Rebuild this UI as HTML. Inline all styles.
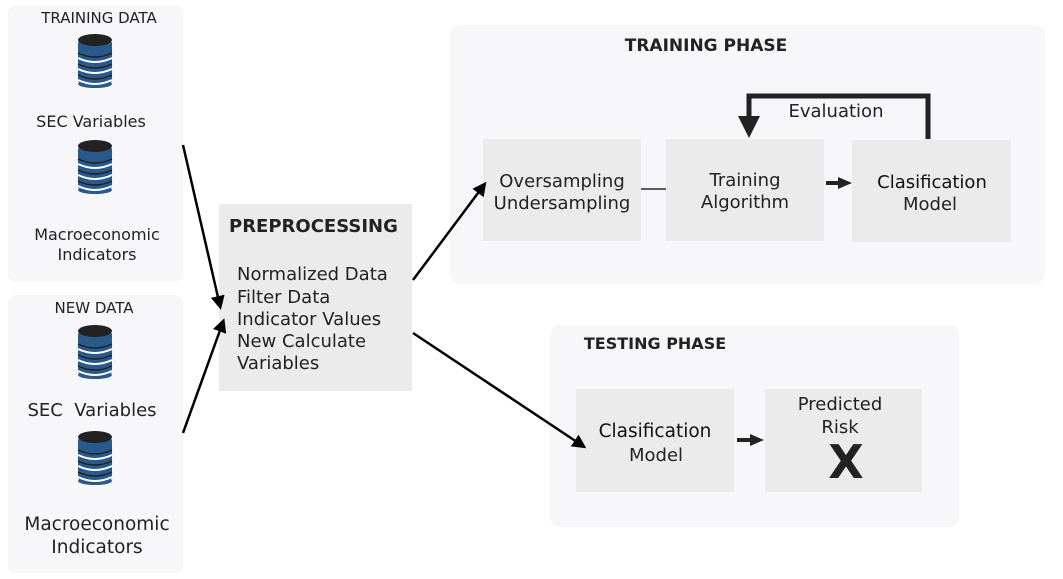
<!DOCTYPE html>
<html><head><style>
body{margin:0;background:#fff;}
svg{display:block;font-family:"DejaVu Sans","Liberation Sans",sans-serif;}
</style></head><body>
<svg width="1063" height="579" viewBox="0 0 1063 579">
<defs>
<marker id="ah2" markerWidth="14" markerHeight="14" refX="10" refY="7" orient="auto" markerUnits="userSpaceOnUse">
<path d="M0,0 L14,7 L0,14 z" fill="#000"/></marker>
<g id="db">
<rect x="-17" y="-20" width="34" height="44" rx="4" fill="#2a5a8c"/>
<ellipse cx="0" cy="24" rx="17" ry="4" fill="#2a5a8c"/>
<path d="M-17,-2 Q0,6 17,-2" stroke="#fff" stroke-width="2" fill="none"/>
<path d="M-17,-7 Q0,1 17,-7" stroke="#222" stroke-width="1.5" fill="none"/>
<path d="M-17,9 Q0,17 17,9" stroke="#fff" stroke-width="2" fill="none"/>
<path d="M-17,4 Q0,12 17,4" stroke="#222" stroke-width="1.5" fill="none"/>
<path d="M-17,20 Q0,28 17,20" stroke="#fff" stroke-width="2" fill="none"/>
<path d="M-17,15 Q0,23 17,15" stroke="#222" stroke-width="1.5" fill="none"/>
<ellipse cx="0" cy="-20" rx="17" ry="6" fill="#222"/>
</g>
</defs>
<rect x="8" y="5" width="175" height="277" rx="8" fill="#f7f7f9"/>
<rect x="8" y="295" width="175" height="278" rx="8" fill="#f7f7f9"/>
<rect x="450" y="25" width="595" height="259" rx="10" fill="#f7f7f9"/>
<rect x="550" y="325" width="409" height="202" rx="10" fill="#f7f7f9"/>
<text x="99" y="23" font-size="15" text-anchor="middle" fill="#222">TRAINING DATA</text>
<use href="#db" x="95" y="60"/>
<text x="91" y="127" font-size="16" text-anchor="middle" fill="#222">SEC Variables</text>
<use href="#db" x="95" y="166"/>
<text x="97" y="240" font-size="16" text-anchor="middle" fill="#222">Macroeconomic</text>
<text x="97" y="260" font-size="16" text-anchor="middle" fill="#222">Indicators</text>
<text x="94" y="313" font-size="15" text-anchor="middle" fill="#222">NEW DATA</text>
<use href="#db" x="95" y="351"/>
<text x="92" y="416" font-size="18" text-anchor="middle" fill="#222" xml:space="preserve">SEC  Variables</text>
<use href="#db" x="95" y="457"/>
<text x="97" y="530" font-size="18.5" text-anchor="middle" fill="#222">Macroeconomic</text>
<text x="97" y="553" font-size="18.5" text-anchor="middle" fill="#222">Indicators</text>
<rect x="219" y="204" width="193" height="187" fill="#ebebeb"/>
<text x="229" y="232" font-size="18" font-weight="bold" fill="#222">PREPROCESSING</text>
<g font-size="18" fill="#222">
<text x="237" y="280">Normalized Data</text>
<text x="237" y="303">Filter Data</text>
<text x="237" y="325">Indicator Values</text>
<text x="237" y="347">New Calculate</text>
<text x="237" y="369">Variables</text>
</g>
<text x="706" y="51" font-size="17" font-weight="bold" text-anchor="middle" fill="#222">TRAINING PHASE</text>
<rect x="483" y="139" width="158" height="102" fill="#ebebeb"/>
<rect x="666" y="139" width="158" height="102" fill="#ebebeb"/>
<rect x="852" y="140" width="159" height="102" fill="#ebebeb"/>
<text x="562" y="187" font-size="18" text-anchor="middle" fill="#222">Oversampling</text>
<text x="562" y="209" font-size="18" text-anchor="middle" fill="#222">Undersampling</text>
<text x="745" y="186" font-size="18" text-anchor="middle" fill="#222">Training</text>
<text x="745" y="208" font-size="18" text-anchor="middle" fill="#222">Algorithm</text>
<text x="932" y="188" font-size="18" text-anchor="middle" fill="#111">Clasification</text>
<text x="930" y="210" font-size="18" text-anchor="middle" fill="#222">Model</text>
<line x1="641" y1="189" x2="666" y2="189" stroke="#000" stroke-width="1.2"/>
<line x1="826" y1="183" x2="840" y2="183" stroke="#222" stroke-width="4"/>
<path d="M838,177 L852,183 L838,189 z" fill="#222"/>
<path d="M928,139 L928,96 L749,96 L749,120" stroke="#222" stroke-width="5" fill="none"/>
<path d="M738,116 L760,116 L749,138 z" fill="#222"/>
<text x="836" y="117" font-size="18" text-anchor="middle" fill="#222">Evaluation</text>
<text x="655" y="349" font-size="16" font-weight="bold" text-anchor="middle" fill="#222">TESTING PHASE</text>
<rect x="576" y="389" width="158" height="103" fill="#ebebeb"/>
<rect x="765" y="389" width="157" height="103" fill="#ebebeb"/>
<text x="655" y="437" font-size="18.5" text-anchor="middle" fill="#111">Clasification</text>
<text x="656" y="461" font-size="18" text-anchor="middle" fill="#222">Model</text>
<text x="840" y="410" font-size="18" text-anchor="middle" fill="#222">Predicted</text>
<text x="840" y="433" font-size="18" text-anchor="middle" fill="#222">Risk</text>
<text x="846" y="478" font-size="46" font-weight="bold" text-anchor="middle" fill="#222">X</text>
<line x1="737" y1="440" x2="752" y2="440" stroke="#222" stroke-width="4"/>
<path d="M750,434 L764,440 L750,446 z" fill="#222"/>
<line x1="183" y1="145" x2="220" y2="306" stroke="#000" stroke-width="2.5" marker-end="url(#ah2)"/>
<line x1="183" y1="433" x2="223" y2="322" stroke="#000" stroke-width="2.5" marker-end="url(#ah2)"/>
<line x1="413" y1="280" x2="484" y2="185" stroke="#000" stroke-width="2.5" marker-end="url(#ah2)"/>
<line x1="413" y1="333" x2="583" y2="446" stroke="#000" stroke-width="2.5" marker-end="url(#ah2)"/>
</svg>
</body></html>
